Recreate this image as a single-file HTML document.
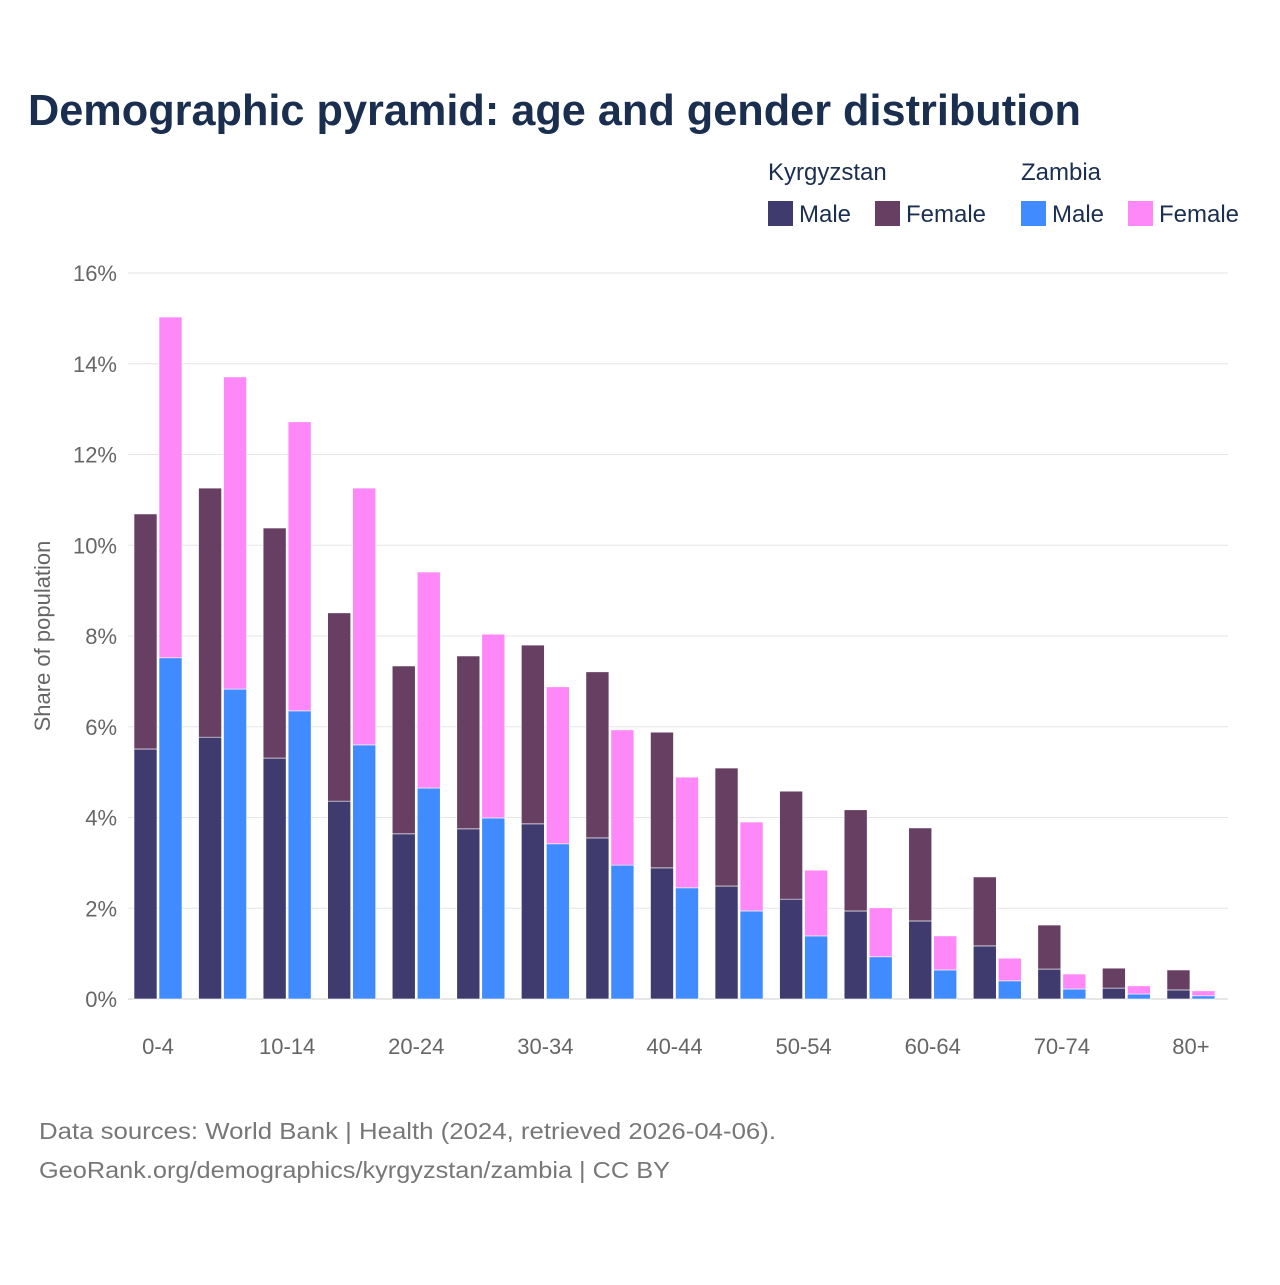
<!DOCTYPE html>
<html><head><meta charset="utf-8"><style>
body{margin:0;background:#fff;font-family:"Liberation Sans",sans-serif;}
svg text{font-family:"Liberation Sans",sans-serif;}
</style></head><body>
<svg id="chart" width="1280" height="1280" viewBox="0 0 1280 1280" xmlns="http://www.w3.org/2000/svg">
<rect width="1280" height="1280" fill="#fff"/>
<text x="28" y="125" font-size="44" font-weight="bold" fill="#1a2e4f" textLength="1053" lengthAdjust="spacingAndGlyphs">Demographic pyramid: age and gender distribution</text>
<g font-size="24" fill="#1a2e4f">
<text x="768" y="180">Kyrgyzstan</text>
<text x="1021" y="180">Zambia</text>
<g><rect x="768" y="201" width="25" height="25" fill="#3f3b6e"/><text x="799" y="222">Male</text></g>
<g><rect x="875" y="201" width="25" height="25" fill="#673f62"/><text x="906" y="222">Female</text></g>
<g><rect x="1021" y="201" width="25" height="25" fill="#3f8bff"/><text x="1052" y="222">Male</text></g>
<g><rect x="1128" y="201" width="25" height="25" fill="#ff88f8"/><text x="1159" y="222">Female</text></g>
</g>
<text transform="translate(50,636) rotate(-90)" text-anchor="middle" font-size="22" fill="#666">Share of population</text>
<g id="grid"></g><g id="bars"></g><g id="xlabels"></g>
<text x="39" y="1139" font-size="23" fill="#777" textLength="737" lengthAdjust="spacingAndGlyphs">Data sources: World Bank | Health (2024, retrieved 2026-04-06).</text>
<text x="39" y="1178" font-size="23" fill="#777" textLength="631" lengthAdjust="spacingAndGlyphs">GeoRank.org/demographics/kyrgyzstan/zambia | CC BY</text>
</svg>
<script>
const categories=["0-4","5-9","10-14","15-19","20-24","25-29","30-34","35-39","40-44","45-49","50-54","55-59","60-64","65-69","70-74","75-79","80+"];
const kgMale=[5.51,5.77,5.31,4.36,3.64,3.75,3.86,3.55,2.89,2.49,2.20,1.94,1.72,1.17,0.66,0.24,0.20];
const kgFemale=[5.18,5.49,5.07,4.15,3.70,3.81,3.94,3.66,2.99,2.60,2.38,2.23,2.05,1.52,0.97,0.44,0.44];
const zmMale=[7.52,6.83,6.35,5.60,4.65,3.99,3.42,2.95,2.45,1.94,1.39,0.93,0.64,0.40,0.22,0.11,0.07];
const zmFemale=[7.51,6.88,6.37,5.66,4.76,4.05,3.46,2.98,2.44,1.96,1.45,1.08,0.75,0.50,0.33,0.18,0.11];
const yTicks=[0,2,4,6,8,10,12,14,16];
const NS="http://www.w3.org/2000/svg";
const y=v=>999-v*45.375;
const xc=i=>158+i*64.56;
function mk(tag,attrs,parent){const e=document.createElementNS(NS,tag);for(const k in attrs)e.setAttribute(k,attrs[k]);parent.appendChild(e);return e;}
const grid=document.getElementById('grid'),bars=document.getElementById('bars'),xl=document.getElementById('xlabels');
yTicks.forEach(t=>{
 const l=mk('line',{x1:128,x2:1228,y1:y(t),y2:y(t),stroke:t===0?'#ccc':'#e6e6e6','stroke-width':1},grid);
 
 
 const tx=mk('text',{x:117,y:y(t)+8,'text-anchor':'end','font-size':22,fill:'#666'},grid);
 tx.textContent=t+'%';
 
 
});
categories.forEach((c,i)=>{
 const cx=xc(i);
 const segs=[[cx-24,0,kgMale[i],'#3f3b6e','kyrgyzstan-male'],[cx-24,kgMale[i],kgFemale[i],'#673f62','kyrgyzstan-female'],[cx+1,0,zmMale[i],'#3f8bff','zambia-male'],[cx+1,zmMale[i],zmFemale[i],'#ff88f8','zambia-female']];
 segs.forEach(s=>{
  const r=mk('rect',{x:s[0],y:y(s[1]+s[2]),width:23,height:s[2]*45.375,fill:s[3],stroke:'#fff','stroke-width':0.6},bars);
  
  
 });
 if(i%2===0){
  const t=mk('text',{x:cx,y:1054,'text-anchor':'middle','font-size':22,fill:'#666'},xl);
  t.textContent=c;
  
  
 }
});
</script>
</body></html>
